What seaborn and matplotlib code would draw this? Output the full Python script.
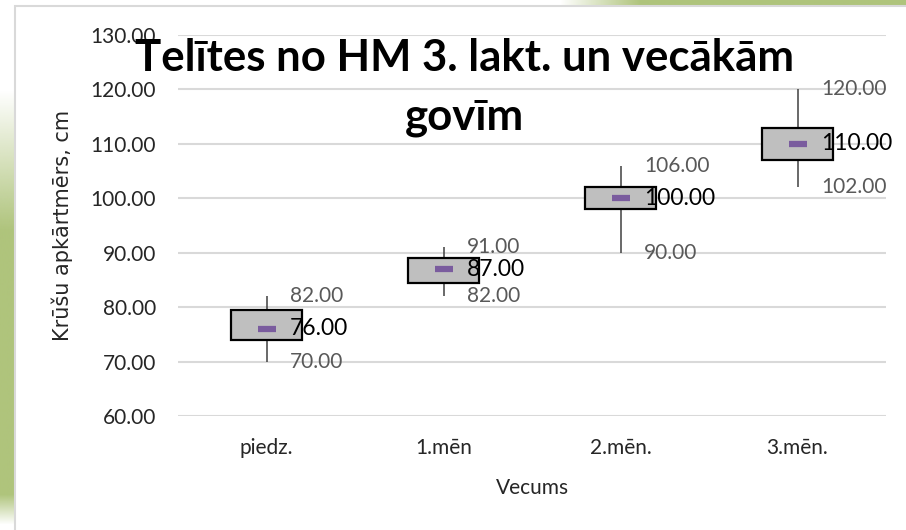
import numpy as np
import pandas as pd
import matplotlib
matplotlib.use('Agg')
import matplotlib.pyplot as plt
import seaborn as sns
from matplotlib.patches import Rectangle

# values
categories = ['piedz.', '1.mēn', '2.mēn.', '3.mēn.']
mins = [70, 82, 90, 102]
q1s = [74, 84.5, 98, 107]
means = [76, 87, 100, 110]
q3s = [79.5, 89, 102, 113]
maxs = [82, 91, 106, 120]

title1 = 'Telītes no HM 3. lakt. un vecākām'
title2 = 'govīm'
xlabel = 'Vecums'
ylabel = 'Krūšu apkārtmērs, cm'

green = '#AFC47C'
purple = '#7A5C9E'
grey_txt = '#595959'

# long table so seaborn builds the boxes (whiskers = min/max)
rows = []
for c, a, b, m, d, e in zip(categories, mins, q1s, means, q3s, maxs):
    for v in (a, b, m, d, e):
        rows.append({'Vecums': c, 'value': v})
df = pd.DataFrame(rows)

sns.set_style('white')
plt.rcParams['font.family'] = ['Lato', 'DejaVu Sans']

W, H = 906, 530
fig = plt.figure(figsize=(W / 100, H / 100), dpi=100)
fig.patch.set_facecolor('white')

# background decoration: green strips + light frame
bg = fig.add_axes([0, 0, 1, 1], zorder=-5)
bg.set_xlim(0, W)
bg.set_ylim(H, 0)
bg.axis('off')
rgb = np.array(matplotlib.colors.to_rgb(green))
ys = np.arange(90, 526)
a_left = np.interp(ys, [90, 230, 495, 525], [0, 1, 1, 0])
img = np.zeros((len(ys), 1, 4))
img[:, 0, :3] = rgb
img[:, 0, 3] = a_left
bg.imshow(img, extent=(0, 14, 525, 90), aspect='auto', interpolation='bilinear')
xs = np.arange(560, W + 1)
a_top = np.interp(xs, [560, 640, W], [0, 1, 1])
img2 = np.zeros((1, len(xs), 4))
img2[0, :, :3] = rgb
img2[0, :, 3] = a_top
bg.imshow(img2, extent=(560, W, 5, 0), aspect='auto', interpolation='bilinear')
bg.add_patch(Rectangle((14.5, 5.5), W, H, facecolor='white', edgecolor='#D9D9D9', lw=1.5))

ax = fig.add_axes([178 / W, 1 - 416 / H, 708 / W, 381 / H])
sns.boxplot(data=df, x='Vecums', y='value', order=categories, ax=ax,
            whis=(0, 100), width=0.4, color='#BFBFBF', saturation=1,
            showcaps=False, showfliers=False,
            boxprops=dict(facecolor='#BFBFBF', edgecolor='black', linewidth=1.6, zorder=3),
            whiskerprops=dict(color='#404040', linewidth=1.1),
            medianprops=dict(visible=False))
sns.pointplot(x=categories, y=means, order=categories, ax=ax, color=purple,
              markers='_', linestyle='none', errorbar=None,
              markersize=13, markeredgewidth=4.5, zorder=5)

for i, c in enumerate(categories):
    ax.annotate(f'{maxs[i]:.2f}', xy=(i, maxs[i]), xytext=(17, 0), textcoords='offset points',
                ha='left', va='center', fontsize=15, color=grey_txt, zorder=6)
    ax.annotate(f'{mins[i]:.2f}', xy=(i, mins[i]), xytext=(17, 0), textcoords='offset points',
                ha='left', va='center', fontsize=15, color=grey_txt, zorder=6)
    ax.annotate(f'{means[i]:.2f}', xy=(i, means[i]), xytext=(17, 0), textcoords='offset points',
                ha='left', va='center', fontsize=16.5, color='black', zorder=6)

ax.set_xlim(-0.5, len(categories) - 0.5)
ax.set_ylim(60, 130)
ax.set_yticks(np.arange(60, 131, 10))
ax.yaxis.set_major_formatter(matplotlib.ticker.FormatStrFormatter('%.2f'))
ax.grid(axis='y', color='#D9D9D9', linewidth=1.5)
ax.set_axisbelow(True)
for s in ax.spines.values():
    s.set_visible(False)
ax.tick_params(axis='both', length=0, labelsize=15, colors='#262626')
ax.tick_params(axis='y', pad=16)
ax.tick_params(axis='x', pad=16)
ax.set_xlabel(xlabel, fontsize=15, color='#262626', labelpad=14)
ax.set_ylabel('')
fig.text(62 / W, 1 - 225 / H, ylabel, rotation=90, ha='center', va='center',
         fontsize=15, color='#262626', family=['DejaVu Sans'])

fig.text(465 / W, 1 - 71 / H, title1, ha='center', va='baseline',
         fontsize=31.5, fontweight='bold', color='black')
fig.text(465 / W, 1 - 129 / H, title2, ha='center', va='baseline',
         fontsize=31.5, fontweight='bold', color='black')

fig.savefig('out.png', dpi=100)
